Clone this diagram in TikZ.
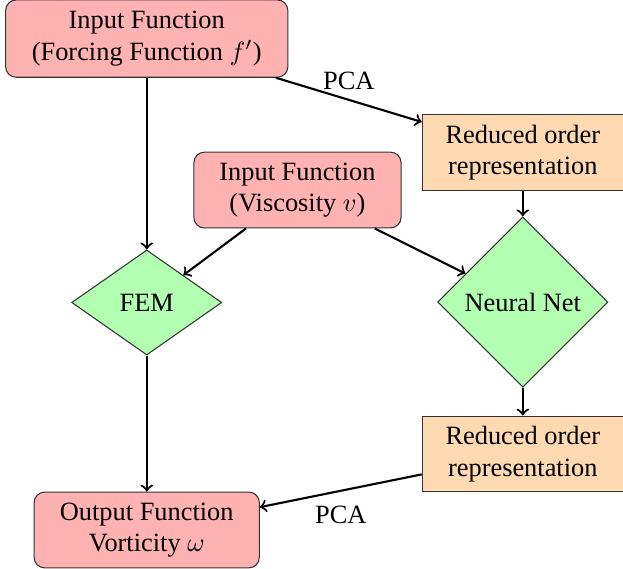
\documentclass[tikz,border=0pt]{standalone}
\usepackage{fontspec}
\setmainfont{Liberation Serif}
\usetikzlibrary{shapes.geometric}
\tikzset{
    mynoder/.style = {rectangle, rounded corners=4pt, draw=black!80, align=center, fill=red!30, minimum height=1.01cm},
    mynodeo/.style = {rectangle, draw=black!80, align=center, fill=orange!30, minimum width=2.68cm, minimum height=1.01cm},
    mynodeg/.style = {diamond, draw=black!80, align=center, fill=green!30, inner sep=1pt},
}

\begin{document}
\begin{tikzpicture}[
	scale=1,
	>=to
]
\tikzset{
    edgen/.style = {->, thick}
}
\useasboundingbox (0,0) rectangle (8.30,7.58);
\node[mynoder, minimum width=3.76cm, minimum height=1.03cm] at (1.955,7.066) (inf) {Input Function\\(Forcing Function $f'$)};
\node[mynodeo] at (6.965,5.548) (redin) {Reduced order\\representation};
\node[mynoder, minimum width=2.76cm] at (3.963,5.048) (inv) {Input Function\\(Viscosity $v$)};
\node[mynodeg, minimum width=2.0cm, minimum height=1.4cm] at (1.955,3.550) (fem) {FEM};
\node[mynodeg, minimum width=2.27cm, minimum height=2.27cm] at (6.965,3.556) (nn) {Neural Net};
\node[mynodeo] at (6.965,1.532) (redout) {Reduced order\\representation};
\node[mynoder, minimum width=3.0cm] at (1.955,0.519) (out) {Output Function\\Vorticity $\omega$};
%
\draw[edgen] (inf) edge node[above] {PCA} (redin);
\draw[edgen] (inf) edge (fem);
\draw[edgen] (inv) edge (fem);
\draw[edgen] (inv) edge (nn);
%
\draw[edgen] (redin) edge (nn);
\draw[edgen] (nn) edge (redout);
\draw[edgen] (fem) edge (out);
\draw[edgen] (redout) edge node[below=2pt] {PCA} (out);
\end{tikzpicture}
\end{document}
